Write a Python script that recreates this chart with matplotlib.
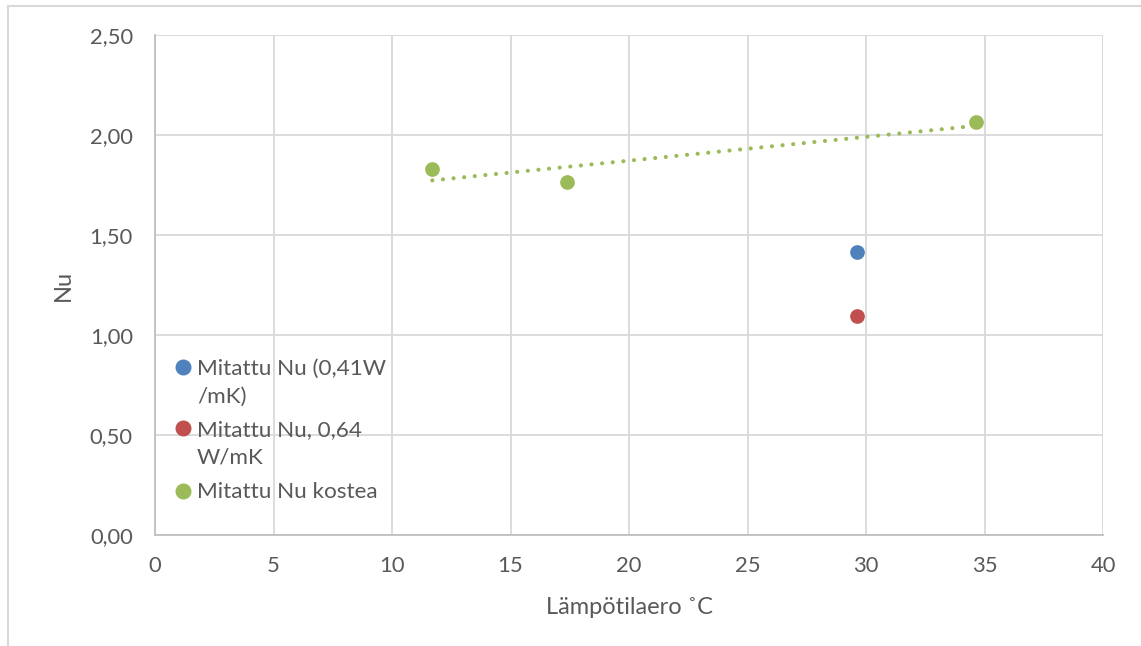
import numpy as np
import matplotlib
matplotlib.use("Agg")
import matplotlib.pyplot as plt
from matplotlib.lines import Line2D

plt.rcParams['font.family'] = ['Lato', 'DejaVu Sans']

# data
x_041 = [29.6]
nu_041 = [1.415]
x_064 = [29.6]
nu_064 = [1.095]
x_kostea = [11.7, 17.4, 34.65]
nu_kostea = [1.83, 1.765, 2.065]

labels = ["Mitattu Nu (0,41W\n/mK)", "Mitattu Nu, 0,64\nW/mK", "Mitattu Nu kostea"]
colors = ["#4F81BD", "#C0504D", "#9BBB59"]
xticks = np.arange(0, 41, 5)
yticks = np.arange(0, 2.51, 0.5)

W, H = 1141, 646
fig = plt.figure(figsize=(W / 100, H / 100), dpi=100)
ax = fig.add_axes([155 / W, 1 - 535 / H, (1103 - 155) / W, (535 - 35) / H])

grid_c = "#D9D9D9"
text_c = "#595959"

ax.scatter(x_041, nu_041, s=112, color=colors[0], zorder=3, linewidths=0)
ax.scatter(x_064, nu_064, s=112, color=colors[1], zorder=3, linewidths=0)
ax.scatter(x_kostea, nu_kostea, s=112, color=colors[2], zorder=3, linewidths=0)

# linear trendline for the green series
k, b = np.polyfit(x_kostea, nu_kostea, 1)
tx = np.array([min(x_kostea), max(x_kostea)])
ax.plot(tx, k * tx + b, color=colors[2], lw=3, linestyle=(0, (0.01, 2.55)),
        dash_capstyle="round", zorder=2)

ax.set_xlim(0, 40)
ax.set_ylim(0, 2.5)
ax.set_xticks(xticks)
ax.set_yticks(yticks)
ax.set_yticklabels([f"{v:.2f}".replace(".", ",") for v in yticks])
ax.grid(True, color=grid_c, lw=1.3, zorder=0)
ax.set_axisbelow(True)
ax.tick_params(length=0, labelsize=15.8, labelcolor=text_c)
ax.tick_params(axis="x", pad=15)
ax.tick_params(axis="y", pad=16)
for s in ["top", "right"]:
    ax.spines[s].set_visible(False)
for s in ["left", "bottom"]:
    ax.spines[s].set_color("#BFBFBF")
    ax.spines[s].set_linewidth(1.3)

ax.set_xlabel("Lämpötilaero ˚C", fontsize=17, color=text_c)
ax.set_ylabel("Nu", fontsize=17, color=text_c)
ax.xaxis.set_label_coords(0.5, -0.125)
ax.yaxis.set_label_coords(-0.086, 0.5)

# legend drawn Excel style: marker beside the first line of each label
leg_y = [367, 428, 491]
line_px = 29
for lab, c, py in zip(labels, colors, leg_y):
    yf = 1 - py / H
    fig.add_artist(Line2D([183 / W], [yf], marker="o", ms=10.5, color=c, mec=c, lw=0))
    extra = lab.count("\n") * line_px
    fig.text(197 / W, yf - (7 + extra) / H, lab, fontsize=16.2, color=text_c,
             va="baseline", ha="left", linespacing=1.5)

# outer chart border
fig.add_artist(Line2D([8 / W, 8 / W], [0, 1 - 6 / H], color=grid_c, lw=1.5))
fig.add_artist(Line2D([8 / W, 1], [1 - 6 / H, 1 - 6 / H], color=grid_c, lw=1.5))

fig.savefig("out.png", dpi=100)
